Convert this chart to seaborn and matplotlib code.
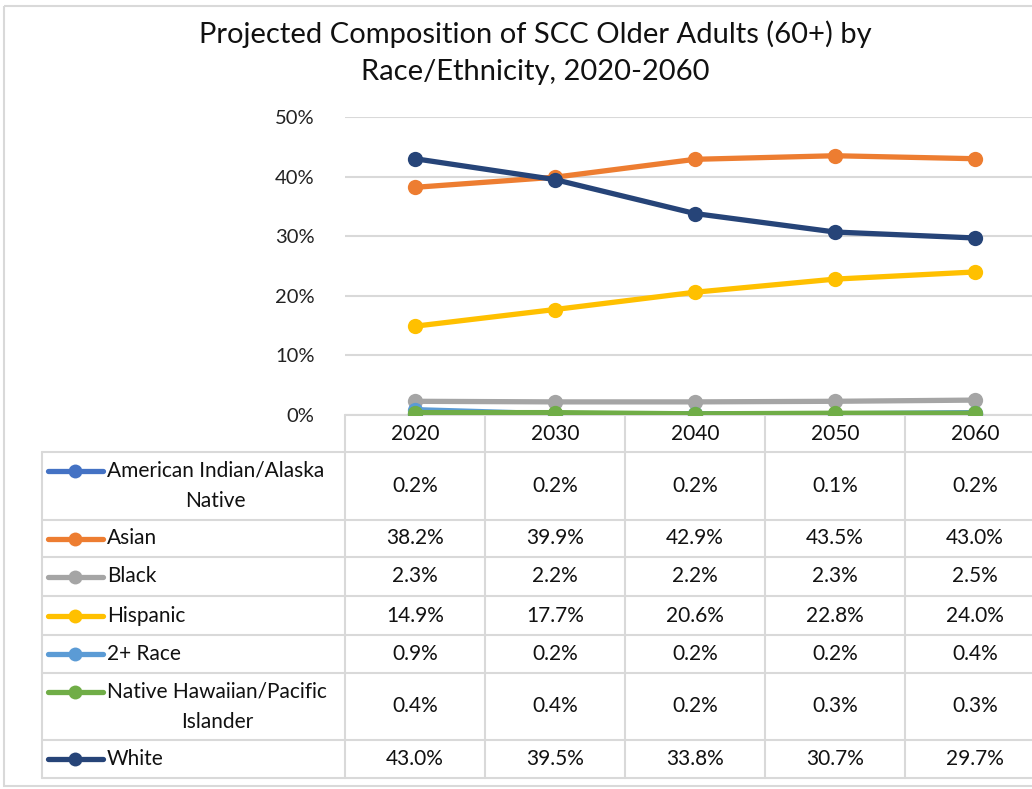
import matplotlib
matplotlib.use("Agg")
import matplotlib.pyplot as plt
from matplotlib.ticker import PercentFormatter, FixedLocator
from matplotlib.lines import Line2D
from matplotlib.patches import Rectangle
import seaborn as sns
import pandas as pd

# Projection years and race/ethnicity groups
years = [2020, 2030, 2040, 2050, 2060]
groups = [
    "American Indian/Alaska\nNative",
    "Asian",
    "Black",
    "Hispanic",
    "2+ Race",
    "Native Hawaiian/Pacific\nIslander",
    "White",
]
# Share of older adults (60+), percent
aian = [0.2, 0.2, 0.2, 0.1, 0.2]
asian = [38.2, 39.9, 42.9, 43.5, 43.0]
black = [2.3, 2.2, 2.2, 2.3, 2.5]
hispanic = [14.9, 17.7, 20.6, 22.8, 24.0]
multi = [0.9, 0.2, 0.2, 0.2, 0.4]
nhpi = [0.4, 0.4, 0.2, 0.3, 0.3]
white = [43.0, 39.5, 33.8, 30.7, 29.7]
series = [aian, asian, black, hispanic, multi, nhpi, white]
colors = ["#4472C4", "#ED7D31", "#A5A5A5", "#FFC000", "#5B9BD5", "#70AD47", "#264478"]
title_lines = ["Projected Composition of SCC Older Adults (60+) by",
               "Race/Ethnicity, 2020-2060"]

sns.set_theme(style="white")
plt.rcParams["font.family"] = ["Lato", "DejaVu Sans"]

W, H = 1032, 789
fig = plt.figure(figsize=(W / 100, H / 100), dpi=100)
fig.patch.set_facecolor("white")

def fx(px):
    return px / W

def fy(py):
    return 1 - py / H

# Plot area: five 140 px category columns starting at x=345
col_left, col_w = 345, 140
y_top, y_zero = 117, 415
ax = fig.add_axes([fx(col_left), fy(y_zero), fx(col_w * 5), (y_zero - y_top) / H])

df = pd.DataFrame(
    [(g, y, v / 100) for g, vals in zip(groups, series) for y, v in zip(years, vals)],
    columns=["group", "year", "share"],
)
sns.lineplot(data=df, x="year", y="share", hue="group", hue_order=groups,
             palette=colors, marker="o", markersize=11, markeredgewidth=0,
             linewidth=3.8, legend=False, ax=ax, zorder=3)

ax.set_xlim(years[0] - 5, years[-1] + 5)
ax.set_ylim(0, 0.5)
ax.yaxis.set_major_locator(FixedLocator([0, 0.1, 0.2, 0.3, 0.4, 0.5]))
ax.yaxis.set_major_formatter(PercentFormatter(1.0, decimals=0))
ax.set_xticks([])
ax.set_xlabel("")
ax.set_ylabel("")
ax.grid(axis="y", color="#D9D9D9", linewidth=1.5)
ax.set_axisbelow(True)
for s in ax.spines.values():
    s.set_visible(False)
ax.tick_params(axis="y", length=0, pad=22, labelsize=14.5, labelcolor="#222222")
ax.set_facecolor("none")

# Overlay in pixel space for the title, frame and data table
ov = fig.add_axes([0, 0, 1, 1], zorder=-1)
ov.set_xlim(0, W)
ov.set_ylim(H, 0)
ov.axis("off")
ov.add_patch(Rectangle((4, 6), W + 20, 780, fill=False, edgecolor="#D9D9D9", linewidth=1.5))

ov.text(535, 34, title_lines[0], ha="center", va="center", fontsize=21, color="#111111")
ov.text(535, 72, title_lines[1], ha="center", va="center", fontsize=21, color="#111111")

grid_c = "#D9D9D9"
row_edges = [452, 520, 557, 596, 635, 673, 740, 778]
table_left = 42
right_edge = col_left + col_w * 5
lw = 1.5
# horizontal rules
ov.plot([col_left, right_edge], [415, 415], color=grid_c, lw=lw)
for yy in row_edges:
    ov.plot([table_left, right_edge], [yy, yy], color=grid_c, lw=lw)
# vertical rules
ov.plot([table_left, table_left], [row_edges[0], row_edges[-1]], color=grid_c, lw=lw)
for i in range(6):
    xx = col_left + i * col_w
    ov.plot([xx, xx], [415, row_edges[-1]], color=grid_c, lw=lw)

# year header row
for i, yr in enumerate(years):
    ov.text(col_left + col_w * (i + 0.5), 434, str(yr), ha="center", va="center",
            fontsize=15, color="#111111")

# group rows with legend keys and values
for r, (g, vals, c) in enumerate(zip(groups, series, colors)):
    top, bot = row_edges[r], row_edges[r + 1]
    mid = (top + bot) / 2
    two_line = "\n" in g
    key_y = top + 19 if two_line else mid
    ov.add_line(Line2D([48, 103], [key_y, key_y], color=c, lw=3.8, solid_capstyle="round"))
    ov.add_line(Line2D([75], [key_y], color=c, marker="o", markersize=10, markeredgewidth=0))
    ov.text(107, top + 8 if two_line else mid, g, ha="left",
            va="top" if two_line else "center", multialignment="center",
            fontsize=15, color="#111111", linespacing=1.7)
    for i, v in enumerate(vals):
        ov.text(col_left + col_w * (i + 0.5), mid, f"{v:.1f}%", ha="center", va="center",
                fontsize=15, color="#111111")

fig.savefig("out.png", dpi=100, facecolor="white")
